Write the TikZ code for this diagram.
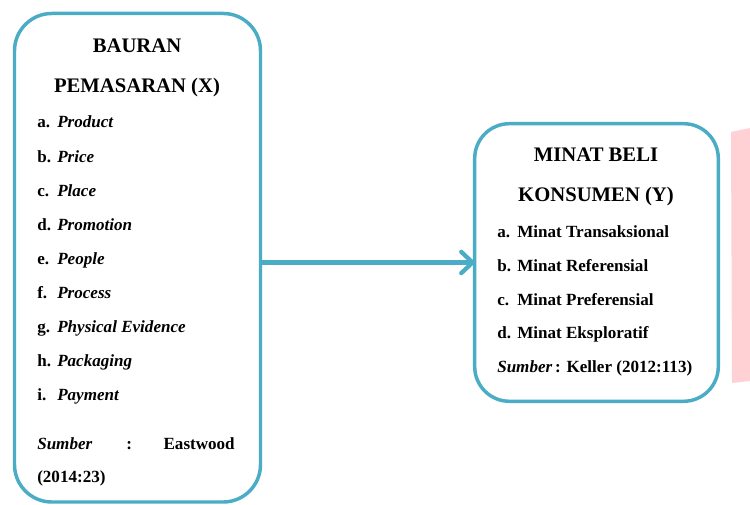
\documentclass[tikz,border=0pt]{standalone}
\usepackage{fontspec}
\setmainfont{Liberation Serif}
\usetikzlibrary{arrows.meta}
\definecolor{boxblue}{HTML}{4BACC6}
\definecolor{wmpink}{HTML}{FFD1D4}
\tikzset{
  bx/.style={draw=boxblue, line width=2.6pt, fill=white, inner sep=0pt, outer sep=0pt},
  ttl/.style={anchor=base, inner sep=0pt, font=\fontsize{15.5pt}{18pt}\selectfont\bfseries},
  itm/.style={anchor=base west, inner sep=0pt, font=\fontsize{12.8pt}{15pt}\selectfont\bfseries},
  arr/.style={draw=boxblue, line width=3.2pt, -{Straight Barb[length=8.5pt,width=16pt,line join=round,line cap=round]}}
}
\begin{document}
\begin{tikzpicture}[x=0.75pt,y=-0.75pt]
\useasboundingbox (0,0) rectangle (750,505);
% watermark-like pink band
\fill[wmpink] (731,132) -- (750,128) -- (750,381) -- (732,383) -- cycle;
% boxes
\node[bx, rounded corners=28pt, minimum width=184.5pt, minimum height=366.4pt] (X) at (137.5,257.75) {};
\node[bx, rounded corners=26pt, minimum width=182.7pt, minimum height=208.2pt] (Y) at (596.5,262.5) {};
% connector
\draw[arr] (Y.west -| X.east) -- (Y.west);
% left box text
\node[ttl] (xt1) at (137,53) {BAURAN};
\node[ttl] (xt2) at (137,93) {PEMASARAN (X)};
\node[itm] (xa) at (37,128) {a.};  \node[itm] (xai) at (57,128) {\itshape Product};
\node[itm] (xb) at (37,163) {b.};  \node[itm] (xbi) at (57,163) {\itshape Price};
\node[itm] (xc) at (37,197) {c.};  \node[itm] (xci) at (57,197) {\itshape Place};
\node[itm] (xd) at (37,231) {d.};  \node[itm] (xdi) at (57,231) {\itshape Promotion};
\node[itm] (xe) at (37,265) {e.};  \node[itm] (xei) at (57,265) {\itshape People};
\node[itm] (xf) at (37,299) {f.};  \node[itm] (xfi) at (57,299) {\itshape Process};
\node[itm] (xg) at (37,333) {g.};  \node[itm] (xgi) at (57,333) {\itshape Physical Evidence};
\node[itm] (xh) at (37,367) {h.};  \node[itm] (xhi) at (57,367) {\itshape Packaging};
\node[itm] (xi) at (37,401) {i.};  \node[itm] (xii) at (57,401) {\itshape Payment};
\node[itm] (xs1) at (37,450) {\itshape Sumber};
\node[itm] (xs2) at (126,450) {:};
\node[itm, anchor=base east] (xs3) at (235,450) {Eastwood};
\node[itm] (xs4) at (37,483) {(2014:23)};
% right box text
\node[ttl] (yt1) at (596,162) {MINAT BELI};
\node[ttl] (yt2) at (596,202) {KONSUMEN (Y)};
\node[itm] (ya) at (497,238) {a.};  \node[itm] (yai) at (517,238) {Minat Transaksional};
\node[itm] (yb) at (497,272) {b.};  \node[itm] (ybi) at (517,272) {Minat Referensial};
\node[itm] (yc) at (497,306) {c.};  \node[itm] (yci) at (517,306) {Minat Preferensial};
\node[itm] (yd) at (497,339) {d.};  \node[itm] (ydi) at (517,339) {Minat Eksploratif};
\node[itm] (ys) at (497,373) {\textit{Sumber}\,: Keller (2012:113)};
\end{tikzpicture}
\end{document}
